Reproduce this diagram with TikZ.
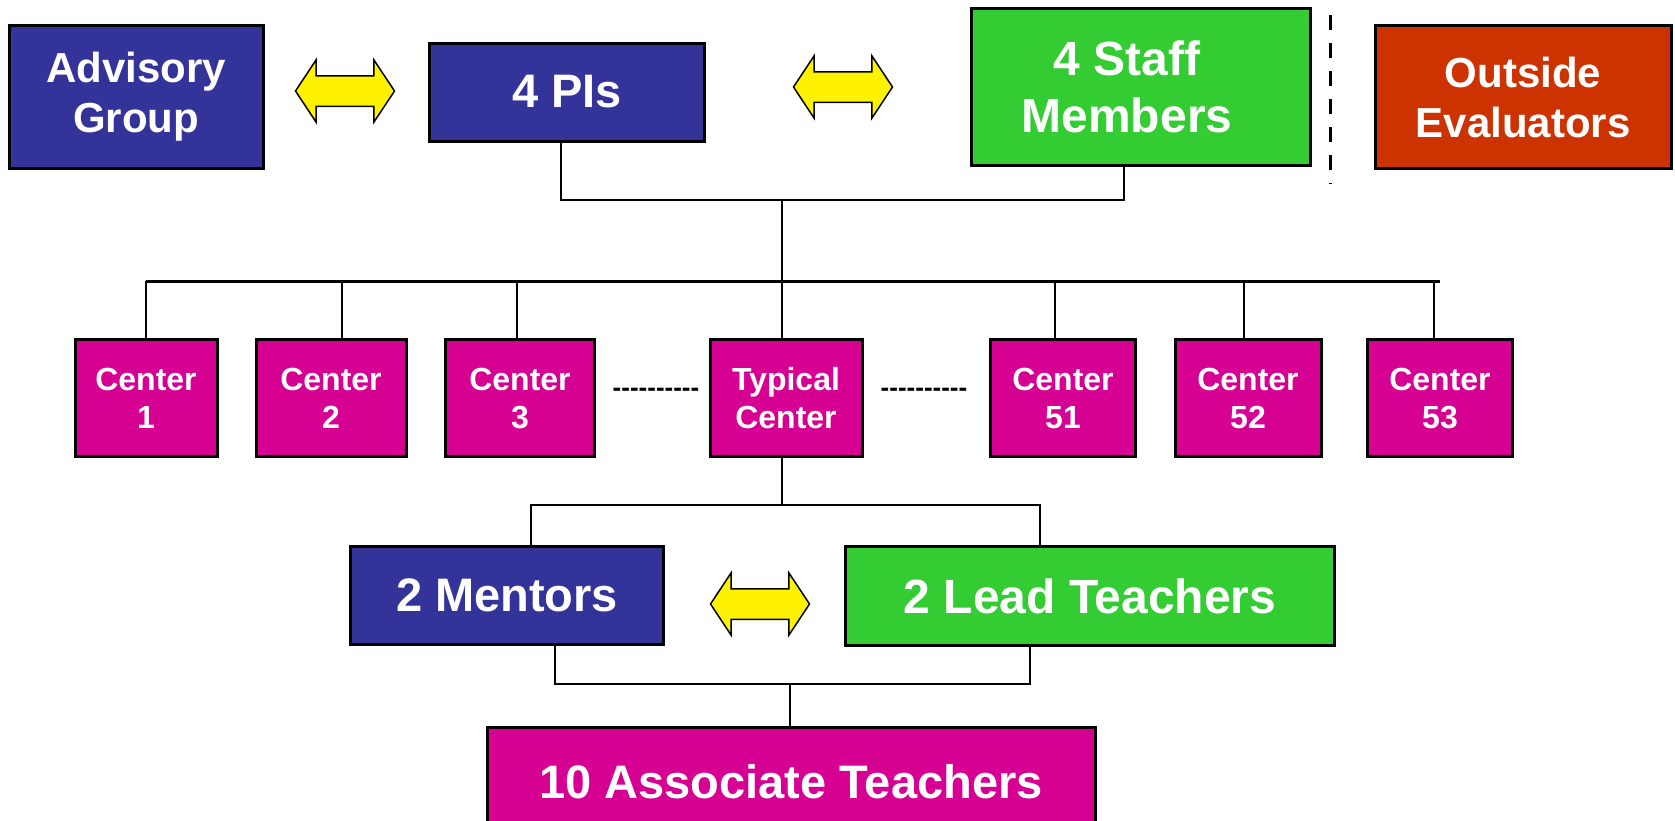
\documentclass[tikz,border=0pt]{standalone}
\usepackage{fontspec}
\setmainfont{Liberation Sans}
\newfontfamily\gapfont{Liberation Sans}[Ligatures=TeXOff]
\usetikzlibrary{shapes.arrows}

\definecolor{piblue}{RGB}{51,51,153}
\definecolor{staffgreen}{RGB}{51,204,51}
\definecolor{centermag}{RGB}{214,0,147}
\definecolor{evalred}{RGB}{204,51,0}

\tikzset{
  box/.style={draw=black, line width=3pt, text=white, align=center, inner sep=0pt},
  bigbox/.style={box, font=\bfseries\fontsize{42}{50}\selectfont},
  centerbox/.style={box, fill=centermag, minimum height=117pt, font=\bfseries\fontsize{32}{38}\selectfont},
  twoway/.style={shape=double arrow, draw=black, line width=1.5pt, fill=yellow,
    minimum height=99pt, inner xsep=0pt, inner ysep=14.5pt,
    double arrow head extend=16pt, double arrow tip angle=113},
  link/.style={line width=2pt}
}

\begin{document}
\begin{tikzpicture}[x=1pt,y=-1pt]
  \useasboundingbox (0,0) rectangle (1675,820);

  % top row
  \node[bigbox, fill=piblue, minimum width=254pt, minimum height=143pt] (advisory) at (136,97) {Advisory\\Group};
  \node[twoway] (arrowa) at (345,91) {};
  \node[bigbox, fill=piblue, minimum width=275pt, minimum height=98pt, font=\bfseries\fontsize{47}{50}\selectfont] (pis) at (567,92) {4 PIs};
  \node[twoway] (arrowb) at (843,87) {};
  \node[bigbox, fill=staffgreen, minimum width=339pt, minimum height=157pt, font=\bfseries\fontsize{48}{57}\selectfont] (staff) at (1141,87) {\hspace*{-28pt}4 Staff\\\hspace*{-28pt}Members};
  \node[bigbox, fill=evalred, minimum width=296pt, minimum height=143pt] (evaluators) at (1523,97) {Outside\\Evaluators};
  \draw[line width=3pt, dash pattern=on 15pt off 13pt] (1330,15) -- (1330,184);

  % centers
  \node[centerbox, minimum width=142pt] (c1) at (146,398) {Center\\1};
  \node[centerbox, minimum width=150pt] (c2) at (331,398) {Center\\2};
  \node[centerbox, minimum width=149pt] (c3) at (520,398) {Center\\3};
  \node[font=\gapfont\bfseries\fontsize{26}{30}\selectfont] (gapl) at (656,392) {----------};
  \node[centerbox, minimum width=152pt] (typ) at (786,398) {Typical\\Center};
  \node[font=\gapfont\bfseries\fontsize{26}{30}\selectfont] (gapr) at (924,392) {----------};
  \node[centerbox, minimum width=145pt] (c51) at (1063,398) {Center\\51};
  \node[centerbox, minimum width=146pt] (c52) at (1248,398) {Center\\52};
  \node[centerbox, minimum width=145pt] (c53) at (1440,398) {Center\\53};

  % one center
  \node[bigbox, fill=piblue, minimum width=313pt, minimum height=98pt, font=\bfseries\fontsize{47}{56}\selectfont] (mentors) at (507,595) {2 Mentors};
  \node[twoway] (arrowc) at (760,604) {};
  \node[bigbox, fill=staffgreen, minimum width=489pt, minimum height=99pt, font=\bfseries\fontsize{48}{56}\selectfont] (lead) at (1090,596) {2 Lead Teachers};
  \node[bigbox, fill=centermag, minimum width=608pt, minimum height=130pt, font=\bfseries\fontsize{47}{56}\selectfont, text depth=0pt] (assoc) at (791,792) {\raisebox{22pt}{10 Associate Teachers}};

  % connectors
  \coordinate (topjoin) at (782,200);
  \coordinate (bus) at (782,281);
  \draw[link] ([xshift=-6pt]pis.south) |- (topjoin) -| ([xshift=-17pt]staff.south);
  \draw[link] (topjoin) -- (bus);
  \draw[line width=3pt] (c1.north |- bus) -- (c53.north |- bus);
  \foreach \c/\dx in {c1/0, c2/11, c3/-3, typ/-4, c51/-8, c52/-4, c53/-6}
    \draw[link] ([xshift=\dx pt]\c.north) -- ([xshift=\dx pt]\c.north |- bus);

  \coordinate (midjoin) at (782,505);
  \draw[link] ([xshift=-4pt]typ.south) -- (midjoin);
  \draw[line width=2.5pt] ([xshift=24pt]mentors.north) |- (midjoin) -| ([xshift=-50pt]lead.north);

  \coordinate (lowjoin) at (790,684);
  \draw[line width=2.5pt] ([xshift=48pt]mentors.south) |- (lowjoin) -| ([xshift=-60pt]lead.south);
  \draw[link] (lowjoin) -- (lowjoin |- assoc.north);
\end{tikzpicture}
\end{document}
